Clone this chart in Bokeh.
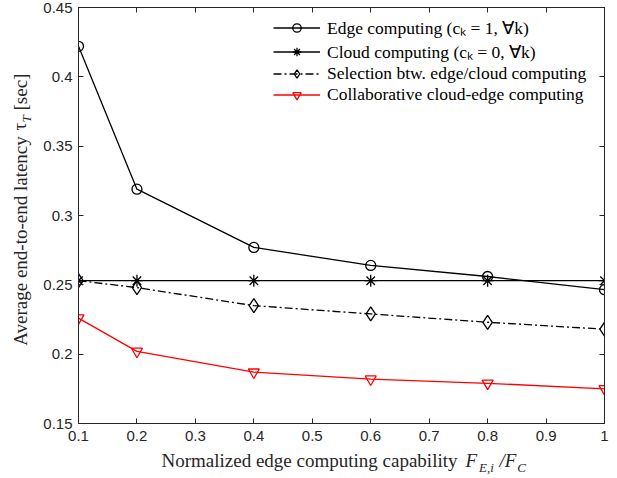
from bokeh.plotting import figure
from bokeh.models import Range1d, FixedTicker, LinearAxis, Legend, LegendItem
from bokeh.embed import file_html
from bokeh.resources import INLINE

# ---- data ----
x_vals = [0.1, 0.2, 0.4, 0.6, 0.8, 1.0]
edge_latency = [0.422, 0.319, 0.277, 0.264, 0.256, 0.2465]
cloud_latency = [0.253, 0.253, 0.253, 0.253, 0.253, 0.253]
selection_latency = [0.253, 0.248, 0.235, 0.229, 0.223, 0.218]
collab_latency = [0.226, 0.202, 0.187, 0.182, 0.179, 0.175]

x_ticks = [0.1, 0.2, 0.3, 0.4, 0.5, 0.6, 0.7, 0.8, 0.9, 1.0]
x_tick_labels = ["0.1", "0.2", "0.3", "0.4", "0.5", "0.6", "0.7", "0.8", "0.9", "1"]
y_ticks = [0.15, 0.2, 0.25, 0.3, 0.35, 0.4, 0.45]
y_tick_labels = ["0.15", "0.2", "0.25", "0.3", "0.35", "0.4", "0.45"]

legend_labels = [
    "Edge computing (c\u2096 = 1, \u2200k)",
    "Cloud computing (c\u2096 = 0, \u2200k)",
    "Selection btw. edge/cloud computing",
    "Collaborative cloud-edge computing",
]

X0, X1 = 0.1, 1.0
Y0, Y1 = 0.15, 0.45
AX = "#262626"
SERIF = "Liberation Serif"

FL, FT, FW, FH = 78, 7, 526, 416   # frame placement on the page (px)

def px_x(px):
    return X0 + (px - FL) / FW * (X1 - X0)

def px_y(py):
    return Y1 - (py - FT) / FH * (Y1 - Y0)

p = figure(frame_width=FW, frame_height=FH,
           x_range=Range1d(X0, X1), y_range=Range1d(Y0, Y1),
           output_backend="svg", toolbar_location=None,
           min_border_left=FL, min_border_right=8, min_border_top=FT, min_border_bottom=0)
p.grid.visible = False
p.outline_line_color = AX
p.background_fill_color = "white"
p.border_fill_color = "white"

def style_axis(ax, ticks, labels, show_labels=True):
    ax.ticker = FixedTicker(ticks=ticks)
    ax.axis_line_color = AX
    ax.major_tick_line_color = AX
    ax.major_tick_in = 5
    ax.major_tick_out = 0
    ax.minor_tick_in = 0
    ax.minor_tick_out = 0
    ax.major_label_text_font = "Liberation Sans"
    ax.major_label_text_color = AX
    if show_labels:
        ax.major_label_overrides = {t: l for t, l in zip(ticks, labels)}
        ax.major_label_text_font_size = "15px"
    else:
        ax.major_label_overrides = {t: "" for t in ticks}
        ax.major_label_text_font_size = "1px"
        ax.major_label_standoff = 0

style_axis(p.xaxis[0], x_ticks, x_tick_labels)
style_axis(p.yaxis[0], y_ticks, y_tick_labels)
p.xaxis[0].major_label_standoff = 7
p.yaxis[0].major_label_standoff = 6

top_ax = LinearAxis()
style_axis(top_ax, x_ticks, x_tick_labels, show_labels=False)
p.add_layout(top_ax, "above")
right_ax = LinearAxis()
style_axis(right_ax, y_ticks, y_tick_labels, show_labels=False)
p.add_layout(right_ax, "right")

# ---- series ----
LW = 1.3
l1 = p.line(x_vals, edge_latency, line_color="black", line_width=LW)
s1 = p.scatter(x_vals, edge_latency, marker="circle", size=10, fill_color=None,
               line_color="black", line_width=LW)
l2 = p.line(x_vals, cloud_latency, line_color="black", line_width=LW)
s2 = p.scatter(x_vals, cloud_latency, marker="asterisk", size=12,
               line_color="black", line_width=LW)
l3 = p.line(x_vals, selection_latency, line_color="black", line_width=LW, line_dash="8 3 2 3")
s3 = p.scatter(x_vals, selection_latency, marker="diamond", size=14, fill_color=None,
               line_color="black", line_width=LW)
l4 = p.line(x_vals, collab_latency, line_color="#ff0000", line_width=LW)
s4 = p.scatter(x_vals, collab_latency, marker="inverted_triangle", size=11, fill_color=None,
               line_color="#ff0000", line_width=LW)

legend = Legend(items=[
    LegendItem(label=legend_labels[0], renderers=[l1, s1]),
    LegendItem(label=legend_labels[1], renderers=[l2, s2]),
    LegendItem(label=legend_labels[2], renderers=[l3, s3]),
    LegendItem(label=legend_labels[3], renderers=[l4, s4]),
], location=(195, 318))
legend.glyph_width = 47
legend.glyph_height = 21
legend.label_height = 21
legend.label_standoff = 7
legend.spacing = 0
legend.padding = 0
legend.margin = 0
legend.border_line_color = None
legend.background_fill_alpha = 0
legend.label_text_font = SERIF
legend.label_text_font_size = "17.5px"
legend.label_text_line_height = 1.0
legend.label_text_color = "black"
p.add_layout(legend)

# ---- axis titles with sub-scripts, drawn as label-only axes ----
def text_axis(side, positions, texts, size, italic, standoff, vertical=False):
    ax = LinearAxis(ticker=FixedTicker(ticks=positions))
    ax.major_label_overrides = {t: s for t, s in zip(positions, texts)}
    ax.axis_line_color = None
    ax.major_tick_line_color = None
    ax.minor_tick_line_color = None
    ax.major_tick_in = 0
    ax.major_tick_out = 0
    ax.minor_tick_in = 0
    ax.minor_tick_out = 0
    ax.major_label_text_font = SERIF
    ax.major_label_text_font_size = f"{size}px"
    ax.major_label_text_font_style = "italic" if italic else "normal"
    ax.major_label_text_color = AX
    ax.major_label_standoff = standoff
    if vertical:
        ax.major_label_orientation = "vertical"
    p.add_layout(ax, side)

# x title: Normalized edge computing capability F_{E,i}/F_C
text_axis("below", [px_x(309)], ["Normalized edge computing capability"], 19, False, 6)
text_axis("below", [px_x(470.8), px_x(507.5)], ["F", "/F"], 19, True, -24)
text_axis("below", [px_x(486), px_x(521)], ["E,i", "C"], 13, True, -14)

# y title: Average end-to-end latency tau_T [sec]
text_axis("left", [px_y(118.4)], ["T"], 13, True, 6, vertical=True)
text_axis("left", [px_y(240.5), px_y(126.1), px_y(91.5)],
          ["Average end-to-end latency", "\u03c4", "[sec]"], 19, False, -14, vertical=True)

open("out.html", "w").write(file_html(p, INLINE))
